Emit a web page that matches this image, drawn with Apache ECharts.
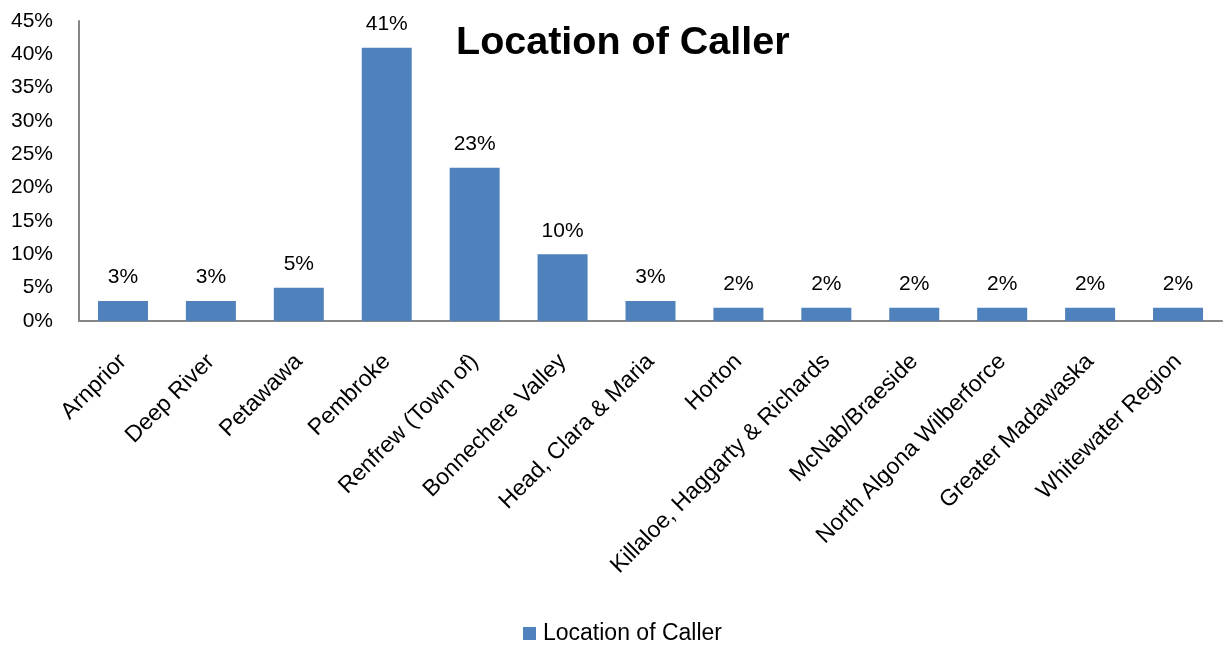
<!DOCTYPE html>
<html><head><meta charset="utf-8">
<script src="https://cdn.jsdelivr.net/npm/echarts@6/dist/echarts.min.js"></script>
<style>html,body{margin:0;padding:0;background:#fff}#c{width:1226px;height:646px}</style>
</head><body><div id="c"></div>
<script>
const categories = ["Arnprior","Deep River","Petawawa","Pembroke","Renfrew (Town of)","Bonnechere Valley","Head, Clara & Maria","Horton","Killaloe, Haggarty & Richards","McNab/Braeside","North Algona Wilberforce","Greater Madawaska","Whitewater Region"];
const values = [3,3,5,41,23,10,3,2,2,2,2,2,2];
const seriesName = "Location of Caller";
const FONT = "'Liberation Sans', Arial, sans-serif";
const chart = echarts.init(document.getElementById('c'));
chart.setOption({
  animation:false,
  title:{text:"Location of Caller",left:451,top:18,textStyle:{fontFamily:FONT,fontSize:39.5,fontWeight:'bold',color:'#000'}},
  legend:{top:617,left:518,itemWidth:13,itemHeight:13,icon:'rect',textStyle:{fontFamily:FONT,fontSize:23,color:'#000',padding:[0,0,0,2]},data:[seriesName]},
  grid:{left:79,right:4,top:21,bottom:325,containLabel:false},
  xAxis:{type:'category',data:categories,
    axisLine:{lineStyle:{color:'#868686',width:2}},axisTick:{show:false},
    axisLabel:{rotate:45,interval:0,fontFamily:FONT,fontSize:23,color:'#000',margin:37}},
  yAxis:{type:'value',min:0,max:45,interval:5,
    axisLine:{show:true,lineStyle:{color:'#868686',width:2}},axisTick:{show:false},splitLine:{show:false},
    axisLabel:{formatter:'{value}%',fontFamily:FONT,fontSize:21,color:'#000',margin:26}},
  series:[{name:seriesName,type:'bar',data:values,barWidth:50,itemStyle:{color:'#4F81BD'},
    label:{show:true,position:'top',distance:13,formatter:'{c}%',fontFamily:FONT,fontSize:21,color:'#000'}}]
});
</script></body></html>
